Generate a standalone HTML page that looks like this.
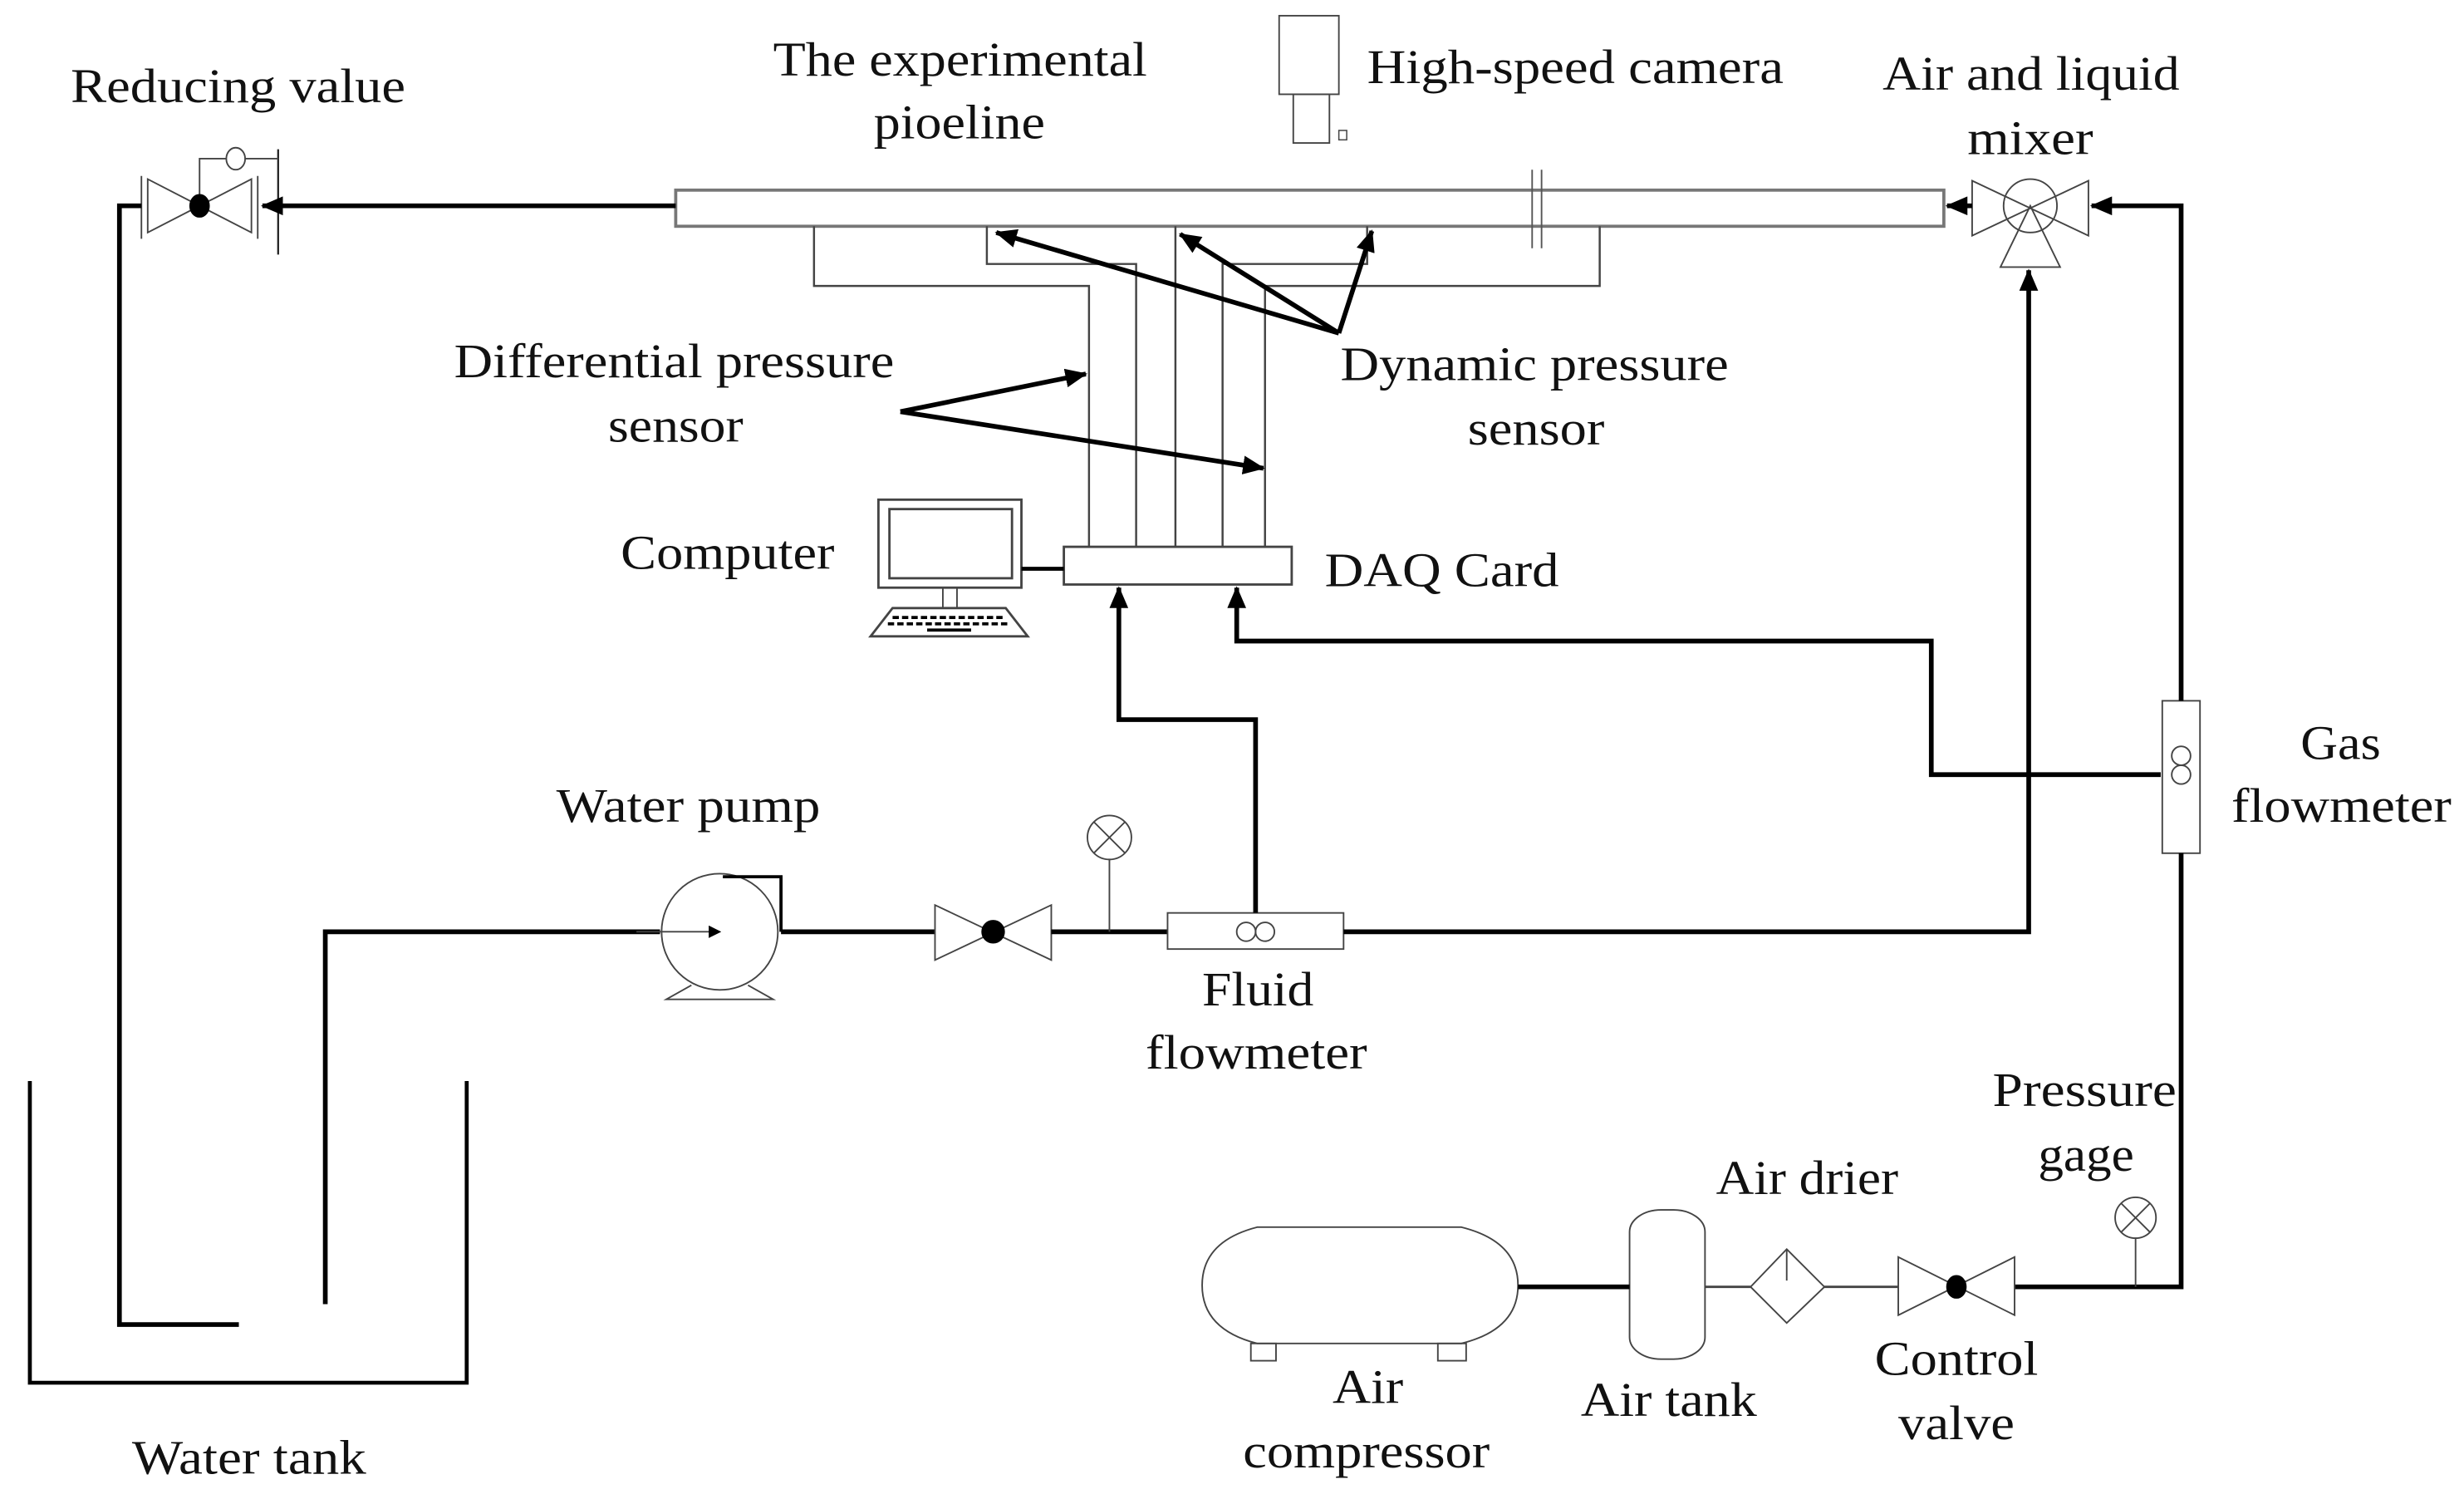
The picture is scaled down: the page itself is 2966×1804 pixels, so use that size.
<!DOCTYPE html>
<html><head><meta charset="utf-8"><style>
html,body{margin:0;padding:0;background:#fff;}
svg{display:block;}
text{font-family:"Liberation Serif",serif;font-size:31px;fill:#111;}
</style></head><body>
<svg width="2966" height="1804" viewBox="0 0 1568 954" preserveAspectRatio="none" xmlns="http://www.w3.org/2000/svg">
<defs>
<marker id="ah" markerWidth="8" markerHeight="8" refX="7" refY="4" orient="auto" markerUnits="userSpaceOnUse"><path d="M0,0 L8,4 L0,8 Z" fill="#000"/></marker>
<marker id="ab" markerWidth="14" markerHeight="12" refX="13" refY="6" orient="auto" markerUnits="userSpaceOnUse"><path d="M0,0 L14,6 L0,12 Z" fill="#000"/></marker>
</defs>
<g fill="none" stroke="#000">
<!-- pipeline -->
<rect x="430" y="121" width="807" height="23" stroke="#777" stroke-width="2"/>
<line x1="975" y1="108" x2="975" y2="158" stroke="#555" stroke-width="1"/>
<line x1="981" y1="108" x2="981" y2="158" stroke="#555" stroke-width="1"/>
<!-- reducing valve -->
<path d="M94,114 L160,148 L160,114 L94,148 Z" stroke="#444" stroke-width="1"/>
<line x1="90" y1="112" x2="90" y2="152" stroke="#444"/>
<line x1="164" y1="112" x2="164" y2="152" stroke="#444"/>
<line x1="177" y1="95" x2="177" y2="162" stroke="#222" stroke-width="1.2"/>
<polyline points="127,131 127,101 144,101" stroke="#444"/>
<line x1="156" y1="101" x2="177" y2="101" stroke="#444"/>
<ellipse cx="150" cy="101" rx="6" ry="7" stroke="#444"/>
<ellipse cx="127" cy="131" rx="6" ry="7" fill="#000"/>
<line x1="430" y1="131" x2="167" y2="131" stroke-width="3" marker-end="url(#ab)"/>
<polyline points="90,131 76,131 76,843 152,843" stroke-width="3"/>
<!-- water tank -->
<polyline points="19,688 19,880 297,880 297,688" stroke-width="2.5"/>
<polyline points="207,830 207,593 420,593" stroke-width="3"/>
<!-- pump -->
<circle cx="458" cy="593" r="37" stroke="#444"/>
<line x1="405" y1="593" x2="458" y2="593" stroke="#444" marker-end="url(#ah)"/>
<path d="M440,627 L424,636 L492,636 L476,627" stroke="#444"/>
<polyline points="460,558 497,558 497,593" stroke-width="2"/>
<line x1="497" y1="593" x2="595" y2="593" stroke-width="3"/>
<!-- valve -->
<path d="M595,576 L669,611 L669,576 L595,611 Z" stroke="#444"/>
<circle cx="632" cy="593" r="7" fill="#000"/>
<line x1="669" y1="593" x2="743" y2="593" stroke-width="3"/>
<circle cx="706" cy="533" r="14" stroke="#444"/>
<line x1="696" y1="523" x2="716" y2="543" stroke="#444"/><line x1="716" y1="523" x2="696" y2="543" stroke="#444"/>
<line x1="706" y1="547" x2="706" y2="593" stroke="#444"/>
<!-- fluid flowmeter -->
<rect x="743" y="581" width="112" height="23" stroke="#444"/>
<circle cx="793" cy="593" r="6" stroke="#444"/><circle cx="805" cy="593" r="6" stroke="#444"/>
<polyline points="855,593 1291,593 1291,172" stroke-width="3" marker-end="url(#ab)"/>
<polyline points="799,581 799,458 712,458 712,374" stroke-width="3" marker-end="url(#ab)"/>
<!-- DAQ -->
<rect x="677" y="348" width="145" height="24" stroke="#444" stroke-width="1.5"/>
<polyline points="1375,493 1229,493 1229,408 787,408 787,374" stroke-width="3" marker-end="url(#ab)"/>
<!-- gas flowmeter -->
<rect x="1376" y="446" width="24" height="97" stroke="#444"/>
<circle cx="1388" cy="481" r="6" stroke="#444"/><circle cx="1388" cy="493" r="6" stroke="#444"/>
<polyline points="1388,446 1388,131 1331,131" stroke-width="3" marker-end="url(#ab)"/>
<polyline points="1388,543 1388,819 1282,819" stroke-width="3"/>
<!-- mixer -->
<path d="M1255,115 L1329,150 L1329,115 L1255,150 Z" stroke="#444"/>
<circle cx="1292" cy="131" r="17" stroke="#444"/>
<path d="M1292,131 L1273,170 L1311,170 Z" stroke="#444"/>
<line x1="1255" y1="131" x2="1239" y2="131" stroke-width="3" marker-end="url(#ab)"/>
<!-- camera -->
<rect x="814" y="10" width="38" height="50" stroke="#444"/>
<rect x="823" y="60" width="23" height="31" stroke="#444"/>
<rect x="852" y="83" width="5" height="6" stroke="#444" stroke-width="0.8"/>
<!-- signal lines -->
<g stroke="#444" stroke-width="1.3">
<polyline points="518,144 518,182 693,182 693,348"/>
<polyline points="628,144 628,168 723,168 723,348"/>
<line x1="748" y1="144" x2="748" y2="348"/>
<polyline points="870,144 870,168 778,168 778,348"/>
<polyline points="1018,144 1018,182 805,182 805,348"/>
</g>
<g stroke-width="3">
<line x1="852" y1="212" x2="634" y2="148" marker-end="url(#ab)"/>
<line x1="852" y1="212" x2="751" y2="149" marker-end="url(#ab)"/>
<line x1="852" y1="212" x2="873" y2="147" marker-end="url(#ab)"/>
<line x1="573" y1="262" x2="691" y2="238" marker-end="url(#ab)"/>
<line x1="573" y1="262" x2="804" y2="298" marker-end="url(#ab)"/>
</g>
<!-- computer -->
<rect x="559" y="318" width="91" height="56" stroke="#444" stroke-width="1.5"/>
<rect x="566" y="324" width="78" height="44" stroke="#444" stroke-width="1.5"/>
<line x1="600" y1="374" x2="600" y2="387" stroke="#444"/><line x1="609" y1="374" x2="609" y2="387" stroke="#444"/>
<path d="M568,387 L640,387 L654,405 L554,405 Z" stroke="#444" stroke-width="1.5"/>
<line x1="568" y1="393" x2="640" y2="393" stroke="#000" stroke-width="2" stroke-dasharray="4,2"/>
<line x1="565" y1="397" x2="643" y2="397" stroke="#000" stroke-width="2" stroke-dasharray="4,2"/>
<line x1="590" y1="401" x2="618" y2="401" stroke="#000" stroke-width="2"/>
<line x1="650" y1="362" x2="677" y2="362" stroke-width="2.5"/>
<!-- air line -->
<path d="M800,781 L930,781 Q966,790 966,818 Q966,846 930,855 L800,855 Q765,846 765,818 Q765,790 800,781 Z" stroke="#444"/>
<rect x="796" y="855" width="16" height="11" stroke="#444"/>
<rect x="915" y="855" width="18" height="11" stroke="#444"/>
<rect x="1037" y="770" width="48" height="95" rx="20" ry="14" stroke="#444"/>
<line x1="966" y1="819" x2="1037" y2="819" stroke-width="3"/>
<line x1="1085" y1="819" x2="1114" y2="819" stroke="#444" stroke-width="1.5"/>
<path d="M1137,795 L1161,819 L1137,842 L1114,819 Z" stroke="#444"/>
<line x1="1137" y1="795" x2="1137" y2="815" stroke="#444"/>
<line x1="1161" y1="819" x2="1208" y2="819" stroke="#444" stroke-width="1.5"/>
<path d="M1208,800 L1282,837 L1282,800 L1208,837 Z" stroke="#444"/>
<ellipse cx="1245" cy="819" rx="6" ry="7" fill="#000"/>
<circle cx="1359" cy="775" r="13" stroke="#444"/>
<line x1="1350" y1="766" x2="1368" y2="784" stroke="#444"/><line x1="1368" y1="766" x2="1350" y2="784" stroke="#444"/>
<line x1="1359" y1="788" x2="1359" y2="819" stroke="#444"/>
</g>
<!-- text -->
<text x="45" y="65" textLength="213" lengthAdjust="spacingAndGlyphs">Reducing value</text>
<text x="492" y="48" textLength="238" lengthAdjust="spacingAndGlyphs">The experimental</text>
<text x="556" y="88" textLength="109" lengthAdjust="spacingAndGlyphs">pioeline</text>
<text x="870" y="53" textLength="265" lengthAdjust="spacingAndGlyphs">High-speed camera</text>
<text x="1198" y="57" textLength="189" lengthAdjust="spacingAndGlyphs">Air and liquid</text>
<text x="1252" y="98" textLength="80" lengthAdjust="spacingAndGlyphs">mixer</text>
<text x="289" y="240" textLength="280" lengthAdjust="spacingAndGlyphs">Differential pressure</text>
<text x="387" y="281" textLength="86" lengthAdjust="spacingAndGlyphs">sensor</text>
<text x="853" y="242" textLength="247" lengthAdjust="spacingAndGlyphs">Dynamic pressure</text>
<text x="934" y="283" textLength="87" lengthAdjust="spacingAndGlyphs">sensor</text>
<text x="395" y="362" textLength="136" lengthAdjust="spacingAndGlyphs">Computer</text>
<text x="843" y="373" textLength="149" lengthAdjust="spacingAndGlyphs">DAQ Card</text>
<text x="1464" y="483" textLength="51" lengthAdjust="spacingAndGlyphs">Gas</text>
<text x="1420" y="523" textLength="140" lengthAdjust="spacingAndGlyphs">flowmeter</text>
<text x="354" y="523" textLength="168" lengthAdjust="spacingAndGlyphs">Water pump</text>
<text x="765" y="640" textLength="71" lengthAdjust="spacingAndGlyphs">Fluid</text>
<text x="729" y="680" textLength="141" lengthAdjust="spacingAndGlyphs">flowmeter</text>
<text x="1268" y="704" textLength="117" lengthAdjust="spacingAndGlyphs">Pressure</text>
<text x="1297" y="745" textLength="61" lengthAdjust="spacingAndGlyphs">gage</text>
<text x="1092" y="760" textLength="116" lengthAdjust="spacingAndGlyphs">Air drier</text>
<text x="848" y="893" textLength="45" lengthAdjust="spacingAndGlyphs">Air</text>
<text x="791" y="934" textLength="157" lengthAdjust="spacingAndGlyphs">compressor</text>
<text x="1006" y="901" textLength="112" lengthAdjust="spacingAndGlyphs">Air tank</text>
<text x="1193" y="875" textLength="104" lengthAdjust="spacingAndGlyphs">Control</text>
<text x="1208" y="916" textLength="74" lengthAdjust="spacingAndGlyphs">valve</text>
<text x="84" y="938" textLength="149" lengthAdjust="spacingAndGlyphs">Water tank</text>
</svg>
</body></html>
